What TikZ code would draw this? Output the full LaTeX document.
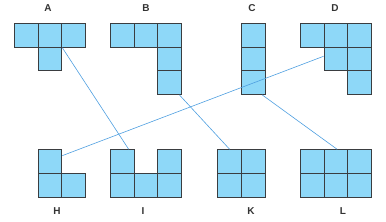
\documentclass[tikz,border=0pt]{standalone}
\usepackage{fontspec}
\setmainfont{Liberation Sans}
\definecolor{cellblue}{HTML}{8ED8F8}
\definecolor{cellline}{HTML}{3A3D40}
\definecolor{linkblue}{HTML}{4E9FE0}
\begin{document}
\begin{tikzpicture}[x=1pt,y=-1pt,
  cell/.style={draw=cellline,fill=cellblue,line width=1.1pt,minimum size=23.6pt,inner sep=0pt,anchor=north west},
  lbl/.style={font=\fontsize{10}{11}\selectfont\bfseries,text=black!80},
  link/.style={draw=linkblue,line width=0.6pt}]
\useasboundingbox (0,0) rectangle (386,222);
% A
\node[cell] (A1) at (14,23) {};
\node[cell] (A2) at (37.6,23) {};
\node[cell] (A3) at (61.2,23) {};
\node[cell] (A4) at (37.6,46.6) {};
% B
\node[cell] (B1) at (110,23) {};
\node[cell] (B2) at (133.6,23) {};
\node[cell] (B3) at (157.2,23) {};
\node[cell] (B4) at (157.2,46.6) {};
\node[cell] (B5) at (157.2,70.2) {};
% C
\node[cell] (C1) at (241,23) {};
\node[cell] (C2) at (241,46.6) {};
\node[cell] (C3) at (241,70.2) {};
% D
\node[cell] (D1) at (300,23) {};
\node[cell] (D2) at (323.6,23) {};
\node[cell] (D3) at (347.2,23) {};
\node[cell] (D4) at (323.6,46.6) {};
\node[cell] (D5) at (347.2,46.6) {};
\node[cell] (D6) at (347.2,70.2) {};
% H
\node[cell] (H1) at (37.6,149.3) {};
\node[cell] (H2) at (37.6,172.9) {};
\node[cell] (H3) at (61.2,172.9) {};
% I
\node[cell] (I1) at (110,149.3) {};
\node[cell] (I2) at (110,172.9) {};
\node[cell] (I3) at (133.6,172.9) {};
\node[cell] (I4) at (157.2,172.9) {};
\node[cell] (I5) at (157.2,149.3) {};
% K
\node[cell] (K1) at (217.3,149.3) {};
\node[cell] (K2) at (240.9,149.3) {};
\node[cell] (K3) at (217.3,172.9) {};
\node[cell] (K4) at (240.9,172.9) {};
% L
\node[cell] (L1) at (300,149.3) {};
\node[cell] (L2) at (323.6,149.3) {};
\node[cell] (L3) at (347.2,149.3) {};
\node[cell] (L4) at (300,172.9) {};
\node[cell] (L5) at (323.6,172.9) {};
\node[cell] (L6) at (347.2,172.9) {};
% labels
\node[lbl] (lA) at (48,8) {A};
\node[lbl] (lB) at (146,8) {B};
\node[lbl] (lC) at (252,8) {C};
\node[lbl] (lD) at (335,8) {D};
\node[lbl] (lH) at (57,211) {H};
\node[lbl] (lI) at (143,211) {I};
\node[lbl] (lK) at (251,211) {K};
\node[lbl] (lL) at (343,211) {L};
% links
\draw[link] (A2.south east) -- ([xshift=-6pt]I1.north east);
\draw[link] ([xshift=-2.5pt]B5.south east) -- (K1.north);
\draw[link] ([yshift=2.7pt]D4.west) -- ([yshift=6pt]H1.east);
\draw[link] ([xshift=-3.5pt]C3.south east) -- ([xshift=1.2pt]L2.north);
\end{tikzpicture}
\end{document}
